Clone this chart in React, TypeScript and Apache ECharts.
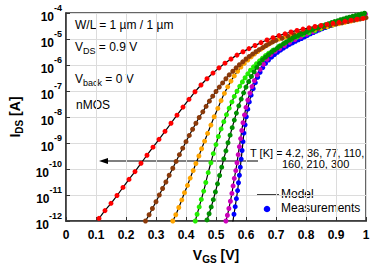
import React, { useEffect, useRef } from "react";
import * as echarts from "echarts";

// ---- Data (Vgs in V, log10 of Ids in A) ----
const vg300 = [0.11,0.13,0.15,0.17,0.19,0.21,0.23,0.25,0.27,0.29,0.31,0.33,0.35,0.37,0.39,0.41,0.43,0.45,0.47,0.49,0.51,0.53,0.55,0.57,0.59,0.61,0.63,0.65,0.67,0.69,0.71,0.73,0.75,0.77,0.79,0.81,0.83,0.85,0.87,0.89,0.91,0.93,0.95,0.97,0.99];
const logI300 = [-11.9,-11.6,-11.32,-11.02,-10.71,-10.4,-10.1,-9.78,-9.47,-9.16,-8.86,-8.55,-8.24,-7.93,-7.62,-7.32,-7.03,-6.77,-6.53,-6.31,-6.11,-5.93,-5.77,-5.62,-5.49,-5.37,-5.25,-5.14,-5.04,-4.95,-4.87,-4.8,-4.73,-4.67,-4.62,-4.57,-4.52,-4.48,-4.44,-4.4,-4.36,-4.32,-4.28,-4.24,-4.21];

const vg210 = [0.265,0.277,0.288,0.3,0.311,0.322,0.333,0.344,0.356,0.367,0.378,0.389,0.4,0.411,0.422,0.433,0.444,0.456,0.467,0.478,0.489,0.5,0.511,0.522,0.533,0.544,0.556,0.567,0.578,0.589,0.6,0.611,0.622,0.633,0.644,0.656,0.667,0.678,0.689,0.7,0.72,0.74,0.76,0.78,0.8,0.82,0.84,0.86,0.88,0.9,0.92,0.94,0.96,0.98,1.0];
const logI210 = [-12.0,-11.76,-11.52,-11.26,-11.0,-10.75,-10.5,-10.24,-9.97,-9.71,-9.45,-9.2,-8.95,-8.71,-8.47,-8.24,-8.02,-7.8,-7.59,-7.39,-7.2,-7.02,-6.85,-6.69,-6.53,-6.38,-6.24,-6.11,-5.99,-5.88,-5.77,-5.67,-5.58,-5.49,-5.41,-5.33,-5.25,-5.18,-5.11,-5.05,-4.97,-4.9,-4.83,-4.77,-4.71,-4.65,-4.59,-4.54,-4.48,-4.43,-4.38,-4.33,-4.28,-4.23,-4.18];

const vg160 = [0.356,0.366,0.376,0.386,0.395,0.405,0.414,0.424,0.433,0.443,0.452,0.462,0.472,0.483,0.494,0.506,0.517,0.528,0.539,0.55,0.561,0.572,0.583,0.594,0.606,0.617,0.628,0.639,0.65,0.661,0.672,0.683,0.694,0.71,0.73,0.75,0.77,0.79,0.81,0.83,0.85,0.87,0.89,0.91,0.93,0.95,0.97,0.99];
const logI160 = [-12.0,-11.76,-11.48,-11.19,-10.91,-10.63,-10.35,-10.06,-9.79,-9.5,-9.22,-8.93,-8.63,-8.31,-7.99,-7.67,-7.37,-7.09,-6.84,-6.62,-6.42,-6.24,-6.08,-5.94,-5.81,-5.69,-5.58,-5.48,-5.39,-5.3,-5.22,-5.14,-5.07,-5.0,-4.93,-4.87,-4.81,-4.75,-4.69,-4.63,-4.57,-4.52,-4.46,-4.41,-4.36,-4.31,-4.26,-4.21];

const vg110 = [0.431,0.437,0.444,0.451,0.459,0.466,0.474,0.483,0.491,0.5,0.508,0.517,0.526,0.535,0.544,0.553,0.561,0.57,0.579,0.588,0.597,0.606,0.615,0.625,0.635,0.645,0.655,0.665,0.675,0.69,0.71,0.73,0.75,0.77,0.79,0.81,0.83,0.85,0.87,0.89,0.91,0.93,0.95,0.97,0.99];
const logI110 = [-12.0,-11.74,-11.46,-11.17,-10.85,-10.52,-10.14,-9.76,-9.41,-9.06,-8.75,-8.46,-8.18,-7.91,-7.66,-7.42,-7.21,-7.01,-6.82,-6.65,-6.49,-6.34,-6.2,-6.07,-5.95,-5.84,-5.74,-5.64,-5.55,-5.43,-5.28,-5.15,-5.03,-4.93,-4.84,-4.76,-4.68,-4.6,-4.53,-4.46,-4.39,-4.32,-4.26,-4.2,-4.14];

const vg77 = [0.47,0.477,0.484,0.491,0.498,0.505,0.512,0.519,0.526,0.533,0.54,0.547,0.554,0.561,0.568,0.576,0.584,0.592,0.6,0.609,0.618,0.627,0.636,0.645,0.655,0.665,0.675,0.685,0.695,0.705,0.715,0.725,0.735,0.745,0.755,0.765,0.775,0.785,0.795,0.805,0.815,0.825,0.835,0.845,0.855,0.865,0.875,0.885,0.895,0.905,0.915,0.925,0.935,0.945,0.955,0.965,0.975,0.985,0.995];
const logI77 = [-11.96,-11.72,-11.46,-11.18,-10.88,-10.57,-10.25,-9.93,-9.61,-9.3,-8.99,-8.7,-8.41,-8.12,-7.85,-7.57,-7.31,-7.07,-6.85,-6.64,-6.44,-6.26,-6.09,-5.94,-5.8,-5.7,-5.6,-5.5,-5.42,-5.34,-5.26,-5.18,-5.11,-5.04,-4.97,-4.91,-4.86,-4.81,-4.76,-4.71,-4.66,-4.62,-4.57,-4.53,-4.49,-4.45,-4.41,-4.37,-4.33,-4.3,-4.26,-4.23,-4.19,-4.16,-4.13,-4.1,-4.07,-4.04,-4.01];

const vg36 = [0.533,0.538,0.543,0.548,0.553,0.557,0.561,0.566,0.57,0.574,0.578,0.582,0.586,0.59,0.595,0.6,0.606,0.613,0.62,0.628,0.637,0.647,0.658,0.67,0.683,0.697,0.712,0.728,0.745,0.763,0.782,0.802,0.823,0.845,0.868,0.892,0.917,0.943,0.97,0.998];
const logI36 = [-12.0,-11.78,-11.52,-11.24,-10.94,-10.65,-10.36,-10.06,-9.76,-9.45,-9.14,-8.83,-8.52,-8.22,-7.92,-7.63,-7.35,-7.08,-6.83,-6.6,-6.38,-6.17,-5.97,-5.78,-5.6,-5.47,-5.37,-5.25,-5.13,-5.02,-4.92,-4.82,-4.72,-4.62,-4.52,-4.42,-4.32,-4.22,-4.13,-4.04];

const vg4 = [0.556,0.56,0.564,0.568,0.572,0.575,0.578,0.581,0.584,0.587,0.59,0.593,0.597,0.601,0.606,0.611,0.617,0.624,0.631,0.639,0.647,0.656,0.665,0.675,0.685,0.695,0.705,0.715,0.725,0.735,0.745,0.755,0.765,0.775,0.785,0.795,0.805,0.815,0.825,0.835,0.845,0.855,0.865,0.875,0.885,0.895,0.905,0.915,0.925,0.935,0.945,0.955,0.965,0.975,0.985,0.995];
const logI4 = [-12.04,-11.74,-11.45,-11.14,-10.83,-10.53,-10.24,-9.93,-9.62,-9.29,-8.95,-8.62,-8.3,-7.99,-7.7,-7.42,-7.16,-6.91,-6.68,-6.47,-6.28,-6.1,-5.94,-5.81,-5.7,-5.6,-5.51,-5.43,-5.35,-5.28,-5.21,-5.15,-5.09,-5.03,-4.98,-4.92,-4.86,-4.8,-4.75,-4.7,-4.65,-4.6,-4.56,-4.51,-4.47,-4.42,-4.38,-4.34,-4.3,-4.26,-4.22,-4.18,-4.15,-4.11,-4.07,-4.04];

const xTicks = [0, 0.1, 0.2, 0.3, 0.4, 0.5, 0.6, 0.7, 0.8, 0.9, 1];
const tempLabelLine1 = "T [K] = 4.2, 36, 77, 110,";
const tempLabelLine2 = "160, 210, 300";

// drawing order: last drawn on top
const curves = [
  { name: "4.2 K", vg: vg4, logI: logI4, color: "#0000ff" },
  { name: "36 K", vg: vg36, logI: logI36, color: "#cc00bb" },
  { name: "110 K", vg: vg110, logI: logI110, color: "#22ee00" },
  { name: "160 K", vg: vg160, logI: logI160, color: "#ffa500" },
  { name: "210 K", vg: vg210, logI: logI210, color: "#8b3a0a" },
  { name: "77 K", vg: vg77, logI: logI77, color: "#009000" },
  { name: "300 K", vg: vg300, logI: logI300, color: "#ff0000" },
];

const FONT = "'Liberation Sans', Arial, sans-serif";

export default function App() {
  const ref = useRef<HTMLDivElement>(null);
  useEffect(() => {
    if (!ref.current) return;
    const chart = echarts.init(ref.current, undefined, { renderer: "svg" });
    const toData = (vg: number[], li: number[]) => vg.map((v, i) => [v, Math.pow(10, li[i])]);

    const lineSeries = curves.map((c) => ({
      type: "line",
      name: "model " + c.name,
      data: toData(c.vg, c.logI),
      smooth: 0.3,
      showSymbol: false,
      symbol: "none",
      lineStyle: { color: "#000", width: 1.2 },
      z: 2,
      silent: true,
    }));
    const scatterSeries = curves.map((c) => ({
      type: "scatter",
      name: c.name,
      data: toData(c.vg, c.logI),
      symbolSize: 5,
      itemStyle: { color: c.color, opacity: 1 },
      z: 3,
      silent: true,
    }));

    const sub = { fontSize: 9, fontFamily: FONT, padding: [5, 0, 0, 0], lineHeight: 12, verticalAlign: "top", fill: "#000", color: "#000" };
    const norm = { fontSize: 12, fontFamily: FONT, lineHeight: 14, verticalAlign: "top", fill: "#000", color: "#000" };

    chart.setOption({
      animation: false,
      grid: { left: 65, right: 26, top: 13, bottom: 46, show: true, borderColor: "#333", borderWidth: 1.5, backgroundColor: "transparent" },
      xAxis: {
        type: "value",
        min: 0,
        max: 1,
        interval: 0.1,
        axisLine: { show: true, lineStyle: { color: "#333", width: 1.5 } },
        axisTick: { show: true, inside: true, length: 4, lineStyle: { color: "#333" } },
        splitLine: { show: true, lineStyle: { color: "#dcdcdc", width: 1 } },
        axisLabel: {
          color: "#000",
          fontWeight: "bold",
          fontSize: 12,
          fontFamily: FONT,
          margin: 8,
          formatter: (v: number) => {
            const t = xTicks.find((x) => Math.abs(x - v) < 1e-6);
            if (t === undefined) return "";
            return t === 0 ? "0" : t === 1 ? "1" : t.toFixed(1);
          },
        },
        name: "{a|V}{s|GS}{a| [V]}",
        nameLocation: "middle",
        nameGap: 27,
        nameTextStyle: {
          rich: {
            a: { fontSize: 14, fontWeight: "bold", fontFamily: FONT, color: "#000", lineHeight: 16, verticalAlign: "top" },
            s: { fontSize: 10, fontWeight: "bold", fontFamily: FONT, color: "#000", lineHeight: 12, padding: [6, 0, 0, 0], verticalAlign: "top" },
          },
        },
      },
      yAxis: {
        type: "log",
        logBase: 10,
        min: 1e-12,
        max: 1e-4,
        axisLine: { show: true, lineStyle: { color: "#333", width: 1.5 } },
        axisTick: { show: true, inside: true, length: 4, lineStyle: { color: "#333" } },
        minorTick: { show: false },
        splitLine: { show: true, lineStyle: { color: "#dcdcdc", width: 1 } },
        axisLabel: {
          margin: 4,
          formatter: (v: number) => {
            const e = Math.round(Math.log10(v));
            return "{b|10}{p|" + e + "}";
          },
          rich: {
            b: { fontSize: 12, fontWeight: "bold", fontFamily: FONT, color: "#000", lineHeight: 20, verticalAlign: "bottom" },
            p: { fontSize: 9, fontWeight: "bold", fontFamily: FONT, color: "#000", lineHeight: 10, verticalAlign: "top" },
          },
        },
        name: "{a|I}{s|DS}{a| [A]}",
        nameLocation: "middle",
        nameGap: 42,
        nameRotate: 90,
        nameTextStyle: {
          rich: {
            a: { fontSize: 14, fontWeight: "bold", fontFamily: FONT, color: "#000", lineHeight: 16, verticalAlign: "top" },
            s: { fontSize: 10, fontWeight: "bold", fontFamily: FONT, color: "#000", lineHeight: 12, padding: [6, 0, 0, 0], verticalAlign: "top" },
          },
        },
      },
      graphic: [
        { type: "text", left: 75, top: 19, style: { text: "W/L = 1 µm / 1 µm", font: "12px " + FONT, fill: "#000" } },
        { type: "text", left: 75, top: 41, style: { text: "{n|V}{s|DS}{n| = 0.9 V}", rich: { n: norm, s: sub } } },
        { type: "text", left: 75, top: 73, style: { text: "{n|V}{s|back}{n| = 0 V}", rich: { n: norm, s: sub } } },
        { type: "text", left: 76, top: 99, style: { text: "nMOS", font: "12px " + FONT, fill: "#000" } },
        { type: "line", shape: { x1: 106, y1: 161, x2: 258, y2: 161 }, style: { stroke: "#000", lineWidth: 1.2 } },
        { type: "polygon", shape: { points: [[99, 161], [108, 158], [108, 164]] }, style: { fill: "#000" } },
        { type: "text", left: 250, top: 147, style: { text: tempLabelLine1, font: "11px " + FONT, fill: "#000" } },
        { type: "text", left: 282, top: 158, style: { text: tempLabelLine2, font: "11px " + FONT, fill: "#000" } },
        { type: "line", shape: { x1: 257, y1: 195, x2: 279, y2: 195 }, style: { stroke: "#000", lineWidth: 1.5 } },
        { type: "text", left: 281, top: 188, style: { text: "Model", font: "12px " + FONT, fill: "#000" } },
        { type: "circle", shape: { cx: 267, cy: 209, r: 3.3 }, style: { fill: "#0000ff" } },
        { type: "text", left: 281, top: 202, style: { text: "Measurements", font: "12px " + FONT, fill: "#000" } },
      ],
      series: [...lineSeries, ...scatterSeries],
    });
    return () => chart.dispose();
  }, []);
  return <div ref={ref} style={{ width: 392, height: 269, position: "absolute", left: 0, top: 0, background: "#fff" }} />;
}
